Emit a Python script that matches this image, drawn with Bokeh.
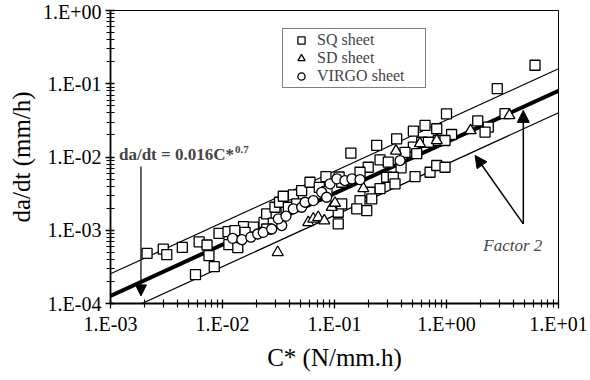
import numpy as np
from bokeh.plotting import figure
from bokeh.models import (FixedTicker, Legend, LegendItem, Label, Arrow,
                          NormalHead, CustomJSTickFormatter)
from bokeh.embed import file_html
from bokeh.resources import INLINE

# ---------------- data ----------------
sq_c = [2.12e-3, 2.96e-3, 3.18e-3, 4.38e-3, 6.19e-3, 7.28e-3, 7.57e-3, 5.74e-3,
        8.44e-3, 9.31e-3, 1.12e-2, 1.14e-2, 1.37e-2, 1.54e-2, 1.89e-2, 1.29e-2,
        1.59e-2, 2.35e-2, 2.48e-2, 3.01e-2, 2.94e-2, 2.84e-2, 2.48e-2, 3.23e-2,
        3.49e-2, 4.29e-2, 3.87e-2, 4.60e-2, 5.09e-2, 6.04e-2, 7.31e-2, 8.39e-2,
        1.10e-1, 1.16e-1, 1.08e-1, 1.08e-1, 8.57e-2, 1.40e-1, 2.38e-1, 3.59e-1,
        5.06e-1, 6.43e-1, 8.18e-1, 1.00, 1.11, 6.01e-1, 8.45e-1, 6.89e-1,
        5.06e-1, 4.26e-1, 5.42e-1, 2.55e-1, 3.02e-1, 3.93e-1, 2.00e-1, 1.69e-1,
        2.92e-1, 3.35e-1, 3.47e-1, 2.55e-1, 5.24e-1, 7.13e-1, 8.18e-1, 9.70e-1,
        2.07e-1, 2.15e-1, 1.69e-1, 1.94e-1, 1.58e-1, 1.16e-1, 6.17, 2.84,
        1.90, 2.36, 2.21, 3.33, 9.70e-1]
sq_rate = [4.83e-4, 5.51e-4, 4.64e-4, 5.83e-4, 6.92e-4, 6.29e-4, 4.50e-4, 2.48e-4,
           3.18e-4, 9.07e-4, 9.57e-4, 6.35e-4, 5.78e-4, 1.12e-3, 1.10e-3, 9.88e-4,
           9.36e-4, 1.28e-3, 1.67e-3, 1.69e-3, 2.06e-3, 1.25e-3, 1.04e-3, 2.41e-3,
           2.91e-3, 3.04e-3, 2.06e-3, 2.29e-3, 3.48e-3, 4.52e-3, 3.86e-3, 5.41e-3,
           5.33e-3, 4.52e-3, 1.76e-3, 1.22e-3, 3.37e-3, 1.13e-2, 1.44e-2, 1.77e-2,
           2.25e-2, 2.70e-2, 2.43e-2, 3.88e-2, 2.03e-2, 1.59e-2, 1.68e-2, 1.59e-2,
           1.36e-2, 1.16e-2, 1.11e-2, 9.16e-3, 8.49e-3, 7.12e-3, 7.25e-3, 6.19e-3,
           5.29e-3, 5.29e-3, 4.30e-3, 3.71e-3, 5.41e-3, 6.19e-3, 7.65e-3, 7.25e-3,
           3.30e-3, 2.68e-3, 2.54e-3, 1.85e-3, 1.96e-3, 2.29e-3, 1.79e-1, 8.57e-2,
           3.11e-2, 2.56e-2, 2.18e-2, 3.90e-2, 1.68e-2]

sd_c = [3.11e-2, 5.83e-2, 6.47e-2, 7.16e-2, 8.11e-2, 9.44e-2, 1.01e-1, 1.81e-1,
        3.54e-1, 5.79e-1, 8.18e-1, 1.64, 3.64]
sd_rate = [4.99e-4, 1.28e-3, 1.43e-3, 1.50e-3, 1.35e-3, 2.06e-3, 2.35e-3, 3.71e-3,
           1.21e-2, 1.53e-2, 1.68e-2, 2.30e-2, 3.70e-2]

vg_c = [1.23e-2, 1.49e-2, 1.79e-2, 2.06e-2, 2.31e-2, 2.75e-2, 3.38e-2, 3.15e-2,
        3.69e-2, 4.29e-2, 5.09e-2, 5.46e-2, 6.47e-2, 7.69e-2, 9.12e-2, 1.05e-1,
        1.24e-1, 8.51e-2, 1.43e-1, 1.69e-1, 3.85e-1]
vg_rate = [7.75e-4, 7.44e-4, 8.05e-4, 8.89e-4, 9.36e-4, 1.04e-3, 1.16e-3, 1.43e-3,
           1.56e-3, 1.96e-3, 2.06e-3, 2.41e-3, 2.54e-3, 3.30e-3, 4.30e-3, 5.03e-3,
           4.77e-3, 2.82e-3, 5.03e-3, 4.92e-3, 8.95e-3]

series_names = ["SQ sheet", "SD sheet", "VIRGO sheet"]

fit_coef = 0.016
fit_exp = 0.7
band_factor = 2.0
c_span = [1e-3, 10.0]

x_ticks = [1e-3, 1e-2, 1e-1, 1e0, 1e1]
x_tick_labels = ["1.E-03", "1.E-02", "1.E-01", "1.E+00", "1.E+01"]
y_ticks = [1e-4, 1e-3, 1e-2, 1e-1, 1e0]
y_tick_labels = ["1.E-04", "1.E-03", "1.E-02", "1.E-01", "1.E+00"]

# ---------------- figure ----------------
FONT = "Liberation Serif"
p = figure(width=590, height=380, x_axis_type="log", y_axis_type="log",
           x_range=(1e-3, 10), y_range=(1e-4, 1),
           output_backend="svg", toolbar_location=None,
           min_border_left=110, min_border_right=32,
           min_border_top=10, min_border_bottom=77,
           background_fill_color="white", border_fill_color="white")
p.xgrid.visible = False
p.ygrid.visible = False
p.outline_line_color = "black"
p.outline_line_width = 1

fit = [fit_coef * c ** fit_exp for c in c_span]
upper = [band_factor * f for f in fit]
lower = [f / band_factor for f in fit]
p.line(c_span, upper, line_color="black", line_width=1.2)
p.line(c_span, lower, line_color="black", line_width=1.2)
p.line(c_span, fit, line_color="black", line_width=4)

mk = dict(fill_color="white", line_color="black", line_width=1.3)
r_sq = p.scatter(sq_c, sq_rate, marker="square", size=10, **mk)
r_sd = p.scatter(sd_c, sd_rate, marker="triangle", size=11, **mk)
r_vg = p.scatter(vg_c, vg_rate, marker="circle", size=10, **mk)

legend = Legend(items=[LegendItem(label=series_names[0], renderers=[r_sq]),
                       LegendItem(label=series_names[1], renderers=[r_sd]),
                       LegendItem(label=series_names[2], renderers=[r_vg])],
                location=(172, 215), border_line_color="black", border_line_width=1,
                label_text_font=FONT, label_text_font_size="16px",
                glyph_width=32, glyph_height=18, label_standoff=0,
                label_width=106, label_height=14,
                padding=2, spacing=0, margin=0)
p.add_layout(legend)

# ---------------- axes ----------------
def fmt(tick_vals, tick_labs):
    return CustomJSTickFormatter(args=dict(tk=tick_vals, lb=tick_labs), code="""
        for (let i = 0; i < tk.length; i++) {
            if (Math.abs(Math.log10(tk[i]) - Math.log10(tick)) < 1e-6) return lb[i];
        }
        return "";
    """)

x_minor = [m * 10.0 ** e for e in range(-3, 1) for m in range(2, 10)]
y_minor = [m * 10.0 ** e for e in range(-4, 0) for m in range(2, 10)]
p.xaxis.ticker = FixedTicker(ticks=x_ticks, minor_ticks=x_minor)
p.yaxis.ticker = FixedTicker(ticks=y_ticks, minor_ticks=y_minor)
p.xaxis.formatter = fmt(x_ticks, x_tick_labels)
p.yaxis.formatter = fmt(y_ticks, y_tick_labels)
p.xaxis.axis_label = "C* (N/mm.h)"
p.yaxis.axis_label = "da/dt (mm/h)"
for ax in (p.xaxis[0], p.yaxis[0]):
    ax.axis_line_width = 1.8
    ax.axis_line_color = "black"
    ax.major_tick_in = 4
    ax.major_tick_out = 5
    ax.minor_tick_in = 4
    ax.minor_tick_out = 4
    ax.major_tick_line_width = 1.3
    ax.minor_tick_line_width = 1.1
    ax.major_tick_line_color = "black"
    ax.minor_tick_line_color = "black"
    ax.major_label_text_font = FONT
    ax.major_label_text_font_size = "20px"
    ax.major_label_text_color = "black"
    ax.major_label_standoff = 4
    ax.axis_label_text_font = FONT
    ax.axis_label_text_font_size = "25px"
    ax.axis_label_text_font_style = "normal"
    ax.axis_label_text_color = "black"
p.xaxis.axis_label_standoff = 6
p.yaxis.axis_label_standoff = 5

# ---------------- annotations ----------------
p.add_layout(Label(x=1.19e-3, y=1.08e-2, text="da/dt = 0.016C*", text_font=FONT,
                   text_font_size="17px", text_font_style="bold",
                   text_baseline="alphabetic"))
p.add_layout(Label(x=1.29e-2, y=1.27e-2, text="0.7", text_font=FONT,
                   text_font_size="11px", text_font_style="bold",
                   text_baseline="alphabetic"))
p.add_layout(Label(x=2.13, y=6.15e-4, text="Factor 2", text_font=FONT,
                   text_font_size="17px", text_font_style="italic",
                   text_baseline="alphabetic"))

head = dict(fill_color="black", line_color="black")
p.add_layout(Arrow(end=NormalHead(size=11, **head), x_start=1.87e-3, y_start=7.41e-3,
                   x_end=1.87e-3, y_end=1.27e-4, line_width=1.2))
p.add_layout(Arrow(end=NormalHead(size=12, **head), x_start=4.85, y_start=1.22e-3,
                   x_end=4.85, y_end=4.33e-2, line_width=1.5))
p.add_layout(Arrow(end=NormalHead(size=12, **head), x_start=4.85, y_start=1.22e-3,
                   x_end=1.80, y_end=1.05e-2, line_width=1.5))

open("out.html", "w").write(file_html(p, INLINE))
